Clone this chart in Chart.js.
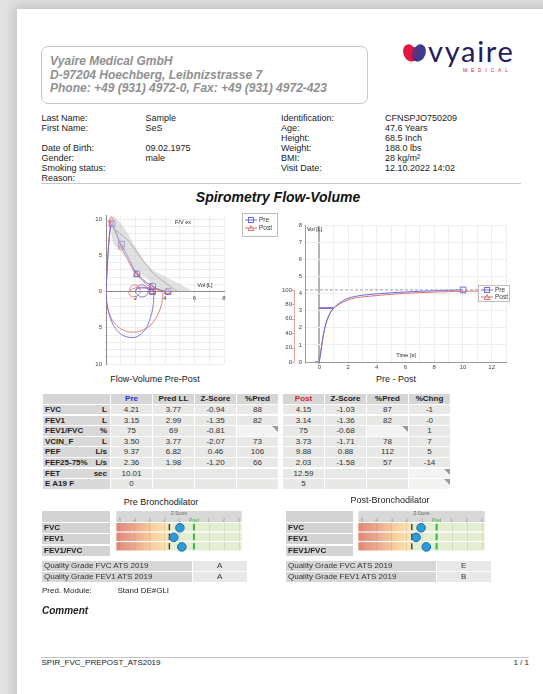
<!DOCTYPE html>
<html>
<head>
<meta charset="utf-8">
<script src="https://cdn.jsdelivr.net/npm/chart.js@4.4.1/dist/chart.umd.min.js"></script>
<style>
  body { margin: 0; width: 543px; height: 694px; overflow: hidden; position: relative;
         background: #e2e2e2; font-family: "Liberation Sans", Arial, sans-serif; color: #222; }
  .page { position: absolute; left: 17px; top: 9px; width: 560px; height: 720px; background: #fff;
          box-shadow: 0 0 10px 4px rgba(0,0,0,0.13); }
  .t { position: absolute; white-space: nowrap; }
  .cell { position: absolute; overflow: hidden; white-space: nowrap; font-size: 8px; color: #333; }
  .flag { position: absolute; right: 0; top: 0; width: 0; height: 0;
          border-top: 6px solid #9a9a9a; border-left: 6px solid transparent; }
  canvas { position: absolute; }
  .legend { position: absolute; background: #fff; border: 1px solid #bdbdbd; font-size: 6.5px; color: #333; }
</style>
</head>
<body>
<div class="page"></div>

<canvas id="fvChart" width="150" height="160" style="left:80px;top:210px"></canvas>
<canvas id="vtChart" width="245" height="154" style="left:270px;top:218px"></canvas>
<canvas id="zPre" width="136" height="46" style="left:111px;top:511px"></canvas>
<canvas id="zPost" width="137" height="46" style="left:353px;top:511px"></canvas>

<script>
// ---- Flow-volume loop [Vol L, Flow L/s] ----
const preExpVol   = [0, 0.05, 0.12, 0.2, 0.28, 0.36, 0.41, 0.55, 0.75, 1.01, 1.3, 1.6, 1.85, 2.07, 2.4, 2.75, 3.16, 3.45, 3.75, 4.0, 4.21];
const preExpFlow  = [0, 2.0, 4.5, 6.8, 8.4, 9.2, 9.37, 8.7, 7.8, 6.6, 5.5, 4.3, 3.3, 2.5, 1.85, 1.25, 0.75, 0.45, 0.22, 0.08, 0];
const postExpVol  = [0, 0.05, 0.12, 0.2, 0.28, 0.33, 0.36, 0.5, 0.75, 1.04, 1.3, 1.6, 1.85, 2.08, 2.4, 2.75, 3.11, 3.4, 3.7, 3.95, 4.15];
const postExpFlow = [0, 2.2, 4.9, 7.2, 8.9, 9.7, 9.88, 9.1, 7.7, 6.1, 5.0, 3.9, 3.0, 2.35, 1.65, 1.0, 0.5, 0.3, 0.15, 0.05, 0];

// tidal loop + forced inspiration
const preInspVol   = [2.0, 2.15, 2.4, 2.65, 2.85, 2.85, 2.7, 2.45, 2.2, 2.0, 2.05, 2.4, 2.8, 3.05, 3.2, 3.24, 3.22, 3.12, 2.98, 2.8, 2.55, 2.3, 2.0, 1.7, 1.4, 1.1, 0.8, 0.5, 0.3, 0.15, 0.05, 0];
const preInspFlow  = [0.1, 0.7, 0.95, 0.8, 0.35, -0.2, -0.6, -0.75, -0.55, -0.1, 0.3, 0.5, 0.45, 0.3, 0.1, -0.5, -1.5, -2.8, -3.8, -4.8, -5.5, -6.0, -6.3, -6.35, -6.25, -6.0, -5.5, -4.65, -3.7, -2.6, -1.4, 0];
const postInspVol  = [1.6, 1.65, 1.85, 2.1, 2.3, 2.3, 2.1, 1.85, 1.6, 1.55, 1.9, 2.4, 2.9, 3.2, 3.45, 3.7, 3.84, 3.82, 3.72, 3.55, 3.35, 3.03, 2.57, 2.11, 1.54, 0.97, 0.5, 0.23, 0.05, 0];
const postInspFlow = [0.0, 0.6, 0.9, 0.85, 0.4, -0.2, -0.6, -0.75, -0.5, 0.0, 0.45, 0.6, 0.55, 0.45, 0.3, 0.12, -0.2, -1.2, -2.1, -3.0, -3.74, -4.66, -5.25, -5.57, -5.57, -5.1, -4.2, -3.06, -1.7, 0];

// markers: PEF, FEF25, FEF50, FEF75, FEV1, FVC
const preMarkVol   = [0.41, 1.05, 2.1, 3.16, 3.15, 4.21];
const preMarkFlow  = [9.37, 6.55, 2.45, 0.75, 0, 0];
const postMarkVol  = [0.36, 1.04, 2.08, 3.11, 3.14, 4.15];
const postMarkFlow = [9.88, 6.1, 2.35, 0.5, 0, 0];

// predicted curve and normal band
const predVol  = [0.46, 0.74, 1.42, 1.88, 2.34, 2.8, 3.26, 3.83, 4.41, 4.87];
const predFlow = [8.8, 8.36, 7.2, 6.07, 4.7, 3.56, 2.42, 1.5, 0.6, 0];
const bandVol  = [0.3, 0.6, 1.08, 1.5, 2.0, 2.4, 2.8, 3.2, 3.5, 4.18, 5.1, 5.9, 3.95, 3.5, 2.8, 2.23, 1.66, 1.08, 0.5, 0.4, 0.3];
const bandFlow = [10.5, 10.3, 9.27, 8.0, 6.1, 4.8, 3.56, 2.9, 2.6, 1.87, 0.96, 0, 0.05, 0.6, 1.73, 2.64, 4.0, 5.38, 6.53, 7.5, 10.5];

const fvXTicks = [0, 1, 2, 3, 4, 5, 6, 7, 8];
const fvYTicks = [-10, -9, -8, -7, -6, -5, -4, -3, -2, -1, 0, 1, 2, 3, 4, 5, 6, 7, 8, 9, 10];

// ---- Volume-time [s, L] ----
const preTime  = [-0.3, -0.05, 0, 0.1, 0.2, 0.3, 0.45, 0.6, 0.8, 1.0, 1.3, 1.6, 2.0, 2.5, 3.0, 4.0, 5.0, 6.0, 7.0, 8.0, 9.0, 10.01];
const preVol   = [0, 0, 0.05, 0.6, 1.2, 1.7, 2.25, 2.6, 2.95, 3.15, 3.38, 3.55, 3.72, 3.83, 3.9, 3.98, 4.04, 4.09, 4.13, 4.16, 4.19, 4.21];
const postTime = [-0.3, -0.05, 0, 0.1, 0.2, 0.3, 0.45, 0.6, 0.8, 1.0, 1.3, 1.6, 2.0, 2.5, 3.0, 4.0, 5.0, 6.0, 7.0, 8.0, 9.0, 10.0, 11.0, 12.59];
const postVol  = [0, 0, 0.05, 0.58, 1.15, 1.65, 2.2, 2.57, 2.92, 3.14, 3.33, 3.47, 3.63, 3.74, 3.8, 3.88, 3.95, 4.01, 4.05, 4.08, 4.11, 4.13, 4.14, 4.15];
const preFVC = 4.21, postFVC = 4.15, preFET = 10.01, postFET = 12.59, preFEV1 = 3.15, postFEV1 = 3.14;
const vtXTicks = [-1, 0, 1, 2, 3, 4, 5, 6, 7, 8, 9, 10, 11, 12, 13];
const vtYTicks = [0, 1, 2, 3, 4, 5, 6, 7, 8];
const pctTicks = [0, 20, 40, 60, 80, 100];

// ---- Z-score panels ----
const zRows  = ['FVC', 'FEV1', 'FEV1/FVC'];
const zPre   = [-0.94, -1.35, -0.81];
const zPost  = [-1.03, -1.36, -0.68];
const zLLN   = -1.645;
const zTicks = [-5, -4, -3, -2, -1, 0, 1, 2, 3];

// ---- Tables ----
const paramNames = ['FVC', 'FEV1', 'FEV1/FVC', 'VCIN_F', 'PEF', 'FEF25-75%', 'FET', 'E A19 F'];
const paramUnits = ['L', 'L', '%', 'L', 'L/s', 'L/s', 'sec', ''];
const preVal  = ['4.21', '3.15', '75', '3.50', '9.37', '2.36', '10.01', '0'];
const predLL  = ['3.77', '2.99', '69', '3.77', '6.82', '1.98', '', ''];
const preZs   = ['-0.94', '-1.35', '-0.81', '-2.07', '0.46', '-1.20', '', ''];
const prePct  = ['88', '82', '', '73', '106', '66', '', ''];
const postVal = ['4.15', '3.14', '75', '3.73', '9.88', '2.03', '12.59', '5'];
const postZs  = ['-1.03', '-1.36', '-0.68', '-1.71', '0.88', '-1.58', '', ''];
const postPct = ['87', '82', '', '78', '112', '57', '', ''];
const pctChng = ['-1', '-0', '1', '7', '5', '-14', '', ''];
const qualityLabels = ['Quality Grade FVC ATS 2019', 'Quality Grade FEV1 ATS 2019'];
const preGrade  = ['A', 'A'];
const postGrade = ['E', 'B'];

const BLUE = '#6b6be0', RED = '#e07272';

Chart.defaults.font.family = '"Liberation Sans", Arial, sans-serif';
Chart.defaults.color = '#444';

const pts = (xs, ys) => xs.map((x, i) => ({ x, y: ys[i] }));

// ---------- text helpers ----------
function txt(s, x, y, size, opt = {}) {
  const d = document.createElement('div');
  d.className = 't';
  d.textContent = s;
  const lh = opt.lh || Math.round(size * 1.2);
  d.style.fontSize = size + 'px';
  d.style.lineHeight = lh + 'px';
  d.style.top = (y - lh / 2) + 'px';
  if (opt.align === 'center') { d.style.left = (x - 200) + 'px'; d.style.width = '400px'; d.style.textAlign = 'center'; }
  else if (opt.align === 'right') { d.style.left = (x - 400) + 'px'; d.style.width = '400px'; d.style.textAlign = 'right'; }
  else d.style.left = x + 'px';
  if (opt.css) d.style.cssText += opt.css;
  document.body.appendChild(d);
  return d;
}
function cell(x, y, w, h, bg, s, css) {
  const d = document.createElement('div');
  d.className = 'cell';
  d.style.cssText += `left:${x}px;top:${y}px;width:${w}px;height:${h}px;line-height:${h}px;background:${bg};` + (css || '');
  if (s !== undefined) d.innerHTML = s;
  document.body.appendChild(d);
  return d;
}

// ---------- header ----------
const hb = document.createElement('div');
hb.style.cssText = 'position:absolute;left:41px;top:46px;width:325px;height:56px;border:1px solid #c6c6c6;border-radius:7px;';
document.body.appendChild(hb);
const hstyle = 'font-weight:bold;font-style:italic;color:#909090;';
txt('Vyaire Medical GmbH', 50, 61, 12, { css: hstyle });
txt('D-97204 Hoechberg, Leibnizstrasse 7', 50, 74.5, 12, { css: hstyle });
txt('Phone: +49 (931) 4972-0, Fax: +49 (931) 4972-423', 50, 88, 12, { css: hstyle });

// logo
const logo = document.createElement('div');
logo.style.cssText = 'position:absolute;left:401px;top:42px;';
logo.innerHTML = '<svg width="28" height="22" viewBox="0 0 28 22">' +
  '<ellipse cx="9" cy="11" rx="6.5" ry="9" transform="rotate(-22 9 11)" fill="#e3173e"/>' +
  '<ellipse cx="18" cy="11" rx="6.5" ry="9" transform="rotate(22 18 11)" fill="#2d2a82" opacity="0.92"/>' +
  '<ellipse cx="13.5" cy="11" rx="2.5" ry="6" fill="#7d2b78" opacity="0.8"/></svg>';
document.body.appendChild(logo);
txt('vyaire', 428, 50.7, 29, { lh: 16, css: 'font-family:Lato,"Noto Sans",sans-serif;color:#221d5e;letter-spacing:1.7px;' });
txt('MEDICAL', 463, 70.5, 5, { lh: 5, css: 'color:#e3173e;letter-spacing:3.8px;' });

// patient info
const infoL = [['Last Name:', 'Sample', 118], ['First Name:', 'SeS', 128], ['Date of Birth:', '09.02.1975', 148],
               ['Gender:', 'male', 158], ['Smoking status:', '', 168], ['Reason:', '', 178.5]];
const infoR = [['Identification:', 'CFNSPJO750209', 118], ['Age:', '47.6 Years', 128], ['Height:', '68.5 Inch', 138],
               ['Weight:', '188.0 lbs', 148], ['BMI:', '28 kg/m²', 158], ['Visit Date:', '12.10.2022 14:02', 168]];
infoL.forEach(r => { txt(r[0], 41.5, r[2], 9); txt(r[1], 145.5, r[2], 9); });
infoR.forEach(r => { txt(r[0], 281, r[2], 9); txt(r[1], 385, r[2], 9); });

const sep = document.createElement('div');
sep.style.cssText = 'position:absolute;left:41px;top:182.5px;width:480px;height:1px;background:#c9c9c9;';
document.body.appendChild(sep);

txt('Spirometry Flow-Volume', 278, 197.5, 14, { align: 'center', css: 'font-weight:bold;font-style:italic;color:#111;' });

// chart captions and inner labels
txt('Flow-Volume Pre-Post', 155, 379.5, 9, { align: 'center' });
txt('Pre - Post', 396, 379, 9, { align: 'center' });
txt('F/V ex', 183, 222, 5.5, { align: 'center' });
txt('Vol [L]', 205, 285, 5.5, { align: 'center' });
txt('Vol [L]', 307, 229, 5.5);
txt('Time [s]', 406, 355, 5.5, { align: 'center' });

// legends
function legend(x, y, w, h, rowGap, top0) {
  const d = document.createElement('div');
  d.className = 'legend';
  d.style.cssText += `left:${x}px;top:${y}px;width:${w}px;height:${h}px;`;
  const sq = `<svg width="12" height="6" style="position:absolute;left:2px;top:${top0 - 3}px"><line x1="0" y1="3" x2="12" y2="3" stroke="${BLUE}"/><rect x="3.5" y="0.5" width="5" height="5" fill="none" stroke="${BLUE}"/></svg>`;
  const tr = `<svg width="12" height="6" style="position:absolute;left:2px;top:${top0 + rowGap - 3}px"><line x1="0" y1="3" x2="12" y2="3" stroke="${RED}"/><path d="M6 0.5 L9 5.5 L3 5.5 Z" fill="none" stroke="${RED}"/></svg>`;
  d.innerHTML = sq + tr +
    `<div class="t" style="left:16px;top:${top0 - 4}px;line-height:8px">Pre</div>` +
    `<div class="t" style="left:16px;top:${top0 + rowGap - 4}px;line-height:8px">Post</div>`;
  document.body.appendChild(d);
}
legend(242, 213, 34, 22, 8, 6);
legend(478, 285, 30, 15, 7, 4);

// ---------- result tables ----------
const tblTop = 394.3, rowH = 10.6, cellH = 9.5;
const HEAD_BG = '#d6d6d6', NAME_BG = '#d8d8d8', DATA_BG = '#e8e8e6', FLAG_BG = '#f3f3f2';
function flagCell(x, y, w, h) { const c = cell(x, y, w, h, FLAG_BG, ''); const f = document.createElement('div'); f.className = 'flag'; c.appendChild(f); }

cell(43, tblTop, 67, cellH, HEAD_BG, '');
const preHead = ['Pre', 'Pred LL', 'Z-Score', '%Pred'];
const postHead = ['Post', 'Z-Score', '%Pred', '%Chng'];
const preColX = [111, 153, 195, 237], postColX = [283, 325, 367, 409];
preHead.forEach((h, j) => cell(preColX[j], tblTop, 41, cellH, HEAD_BG, h,
  'text-align:center;font-weight:bold;color:' + (j === 0 ? '#2b2be6' : '#222')));
postHead.forEach((h, j) => cell(postColX[j], tblTop, 41, cellH, HEAD_BG, h,
  'text-align:center;font-weight:bold;color:' + (j === 0 ? '#e02424' : '#222')));

paramNames.forEach((name, i) => {
  const y = tblTop + (i + 1) * rowH;
  const c = cell(43, y, 67, cellH, NAME_BG, '', 'font-weight:bold;color:#222');
  c.innerHTML = `<span style="position:absolute;left:2px">${name}</span><span style="position:absolute;right:3px">${paramUnits[i]}</span>`;
  const preCols = [preVal[i], predLL[i], preZs[i], prePct[i]];
  preCols.forEach((v, j) => {
    if (j === 3 && i === 2) flagCell(preColX[j], y, 41, cellH);
    else cell(preColX[j], y, 41, cellH, DATA_BG, v, 'text-align:center');
  });
  const postCols = [postVal[i], postZs[i], postPct[i], pctChng[i]];
  postCols.forEach((v, j) => {
    if ((j === 2 && i === 2) || (j === 3 && i >= 6)) flagCell(postColX[j], y, 41, cellH);
    else cell(postColX[j], y, 41, cellH, DATA_BG, v, 'text-align:center');
  });
});

// ---------- z-score section ----------
txt('Pre Bronchodilator', 161, 502, 9, { align: 'center' });
txt('Post-Bronchodilator', 390, 500.5, 9, { align: 'center' });
const zTop = 523, zRowH = 34 / 3;
[[42, 68], [286, 66.5]].forEach(([x, w]) => {
  cell(x, 511, w, 11, '#d3d3d3', '');
  zRows.forEach((r, i) => cell(x, zTop + i * zRowH, w, zRowH - 1.2, '#d3d3d3', r,
    'font-weight:bold;color:#222;padding-left:2px;box-sizing:border-box'));
});
qualityLabels.forEach((q, i) => {
  const y = 561 + i * 11;
  cell(42, y, 149.5, 9.6, '#d6d6d6', q, 'padding-left:2px;box-sizing:border-box');
  cell(192.5, y, 54.5, 9.6, '#e8e8e6', preGrade[i], 'text-align:center');
  cell(286, y, 149.5, 9.6, '#d6d6d6', q, 'padding-left:2px;box-sizing:border-box');
  cell(436.5, y, 54.5, 9.6, '#e8e8e6', postGrade[i], 'text-align:center');
});
txt('Pred. Module:', 42, 590.5, 8);
txt('Stand DE#GLI', 117.5, 590.5, 8);
txt('Comment', 42, 610.5, 10, { css: 'font-weight:bold;font-style:italic;' });

const foot = document.createElement('div');
foot.style.cssText = 'position:absolute;left:41px;top:657px;width:488px;height:1px;background:#c4c4c4;';
document.body.appendChild(foot);
txt('SPIR_FVC_PREPOST_ATS2019', 41.5, 663, 8);
txt('1 / 1', 529, 663, 8, { align: 'right' });

// ---------- Flow-volume chart ----------
new Chart(document.getElementById('fvChart'), {
  type: 'line',
  data: {
    datasets: [
      { data: pts(bandVol, bandFlow), fill: 'shape', backgroundColor: 'rgba(200,200,200,0.55)', borderWidth: 0, pointRadius: 0, tension: 0 },
      { data: pts(predVol, predFlow), borderColor: '#8e8e8e', borderWidth: 1, pointRadius: 0, tension: 0.3 },
      { data: pts(preInspVol, preInspFlow), borderColor: BLUE, borderWidth: 0.9, pointRadius: 0, tension: 0.25 },
      { data: pts(postInspVol, postInspFlow), borderColor: RED, borderWidth: 0.9, pointRadius: 0, tension: 0.25 },
      { data: pts(preExpVol, preExpFlow), borderColor: BLUE, borderWidth: 1, pointRadius: 0, tension: 0.2 },
      { data: pts(postExpVol, postExpFlow), borderColor: RED, borderWidth: 1, pointRadius: 0, tension: 0.2 },
      { data: pts(preMarkVol, preMarkFlow), showLine: false, pointStyle: 'rect', pointRadius: 4, borderColor: BLUE, backgroundColor: 'rgba(255,255,255,0)', borderWidth: 1 },
      { data: pts(postMarkVol, postMarkFlow), showLine: false, pointStyle: 'triangle', pointRadius: 3.5, borderColor: RED, backgroundColor: 'rgba(255,255,255,0)', borderWidth: 1 }
    ]
  },
  options: {
    responsive: false, animation: false,
    layout: { padding: { top: 5, bottom: 6, right: 6, left: 0 } },
    plugins: { legend: { display: false }, tooltip: { enabled: false } },
    scales: {
      x: {
        type: 'linear', min: 0, max: 8, position: { y: 0 },
        afterBuildTicks: s => { s.ticks = fvXTicks.map(v => ({ value: v })); },
        ticks: { font: { size: 6 }, padding: 1, maxRotation: 0, autoSkip: false,
                 callback: v => (v > 0 && v % 2 === 0) ? v : '' },
        grid: { color: '#ededed', tickLength: 2 },
        border: { color: '#8a8a8a' }
      },
      y: {
        type: 'linear', min: -10, max: 10.5,
        afterBuildTicks: s => { s.ticks = fvYTicks.map(v => ({ value: v })); },
        ticks: { font: { size: 6 }, padding: 2, autoSkip: false, callback: v => v % 5 === 0 ? Math.abs(v) : '' },
        grid: { color: '#ededed', tickLength: 2 },
        border: { color: '#8a8a8a' },
        afterFit: s => { s.width = 26; }
      }
    }
  }
});

// ---------- Volume-time chart ----------
const pctAxisLine = {
  id: 'pctAxisLine',
  afterDraw(chart) {
    const s = chart.scales.pct, ctx = chart.ctx;
    const x = Math.round(s.right) - 0.5;
    ctx.save();
    ctx.strokeStyle = '#e6a3a3';
    ctx.lineWidth = 1;
    ctx.beginPath();
    ctx.moveTo(x, s.getPixelForValue(0));
    ctx.lineTo(x, s.getPixelForValue(100));
    pctTicks.forEach(v => { const y = Math.round(s.getPixelForValue(v)) + 0.5; ctx.moveTo(x - 2.5, y); ctx.lineTo(x, y); });
    ctx.stroke();
    ctx.restore();
  }
};
new Chart(document.getElementById('vtChart'), {
  type: 'line',
  data: {
    datasets: [
      { data: [{ x: -1, y: preFVC }, { x: 13, y: preFVC }], borderColor: '#9c9cae', borderWidth: 1, borderDash: [3, 2], pointRadius: 0 },
      { data: pts(preTime, preVol), borderColor: BLUE, borderWidth: 1, pointRadius: 0, tension: 0.3 },
      { data: pts(postTime, postVol), borderColor: RED, borderWidth: 1, pointRadius: 0, tension: 0.3 },
      { data: [{ x: 0, y: preFEV1 }, { x: 1, y: preFEV1 }], borderColor: BLUE, borderWidth: 1.5, pointRadius: 0 },
      { data: [{ x: 0, y: postFEV1 }, { x: 1, y: postFEV1 }], borderColor: RED, borderWidth: 1.5, pointRadius: 0 },
      { data: [{ x: preFET, y: preFVC }], showLine: false, pointStyle: 'rect', pointRadius: 4, borderColor: BLUE, backgroundColor: 'rgba(255,255,255,0)', borderWidth: 1 },
      { data: [{ x: postFET, y: postFVC }], showLine: false, pointStyle: 'triangle', pointRadius: 3.5, borderColor: RED, backgroundColor: 'rgba(255,255,255,0)', borderWidth: 1 }
    ]
  },
  options: {
    responsive: false, animation: false,
    layout: { padding: { top: 7, right: 9, left: 0, bottom: 0 } },
    plugins: { legend: { display: false }, tooltip: { enabled: false } },
    scales: {
      x: {
        type: 'linear', min: -1, max: 13,
        afterBuildTicks: s => { s.ticks = vtXTicks.map(v => ({ value: v })); },
        ticks: { font: { size: 6 }, padding: 0, maxRotation: 0, autoSkip: false,
                 callback: v => (v >= 0 && v % 2 === 0) ? v : '' },
        grid: { color: c => c.tick && c.tick.value === 0 ? '#b3b3b3' : '#eeeeee',
                lineWidth: c => c.tick && c.tick.value === 0 ? 2 : 1, tickLength: 2 },
        border: { color: '#999' },
        afterFit: s => { s.height = 10; }
      },
      y: {
        type: 'linear', position: 'left', weight: 0, min: 0, max: 8,
        afterBuildTicks: s => { s.ticks = vtYTicks.map(v => ({ value: v })); },
        ticks: { font: { size: 6 }, padding: 1 },
        grid: { color: '#eeeeee', tickLength: 2 },
        border: { color: '#999' },
        afterFit: s => { s.width = 10; }
      },
      pct: {
        type: 'linear', position: 'left', weight: 1, min: 0, max: 8 / preFVC * 100,
        afterBuildTicks: s => { s.ticks = pctTicks.map(v => ({ value: v })); },
        ticks: { font: { size: 6 }, padding: 3 },
        grid: { display: false, drawTicks: false },
        border: { display: false },
        afterFit: s => { s.width = 25; }
      }
    }
  },
  plugins: [pctAxisLine]
});

// ---------- Z-score charts ----------
const zBackground = {
  id: 'zBackground',
  beforeDraw(chart) {
    const { ctx, chartArea: a, scales: { x, y } } = chart;
    ctx.save();
    ctx.fillStyle = '#d8d8d8';
    ctx.fillRect(a.left, 0, a.right - a.left, a.top - 1);
    const xl = x.getPixelForValue(zLLN), x0 = x.getPixelForValue(0);
    const grad = ctx.createLinearGradient(a.left, 0, xl, 0);
    grad.addColorStop(0, '#df8a78');
    grad.addColorStop(0.35, '#eda88e');
    grad.addColorStop(0.7, '#f7d19e');
    grad.addColorStop(1, '#fbe6b6');
    const h = (a.bottom - a.top) / zRows.length;
    zRows.forEach((r, i) => {
      const top = a.top + i * h, rh = h - 1.2;
      ctx.fillStyle = grad;
      ctx.fillRect(a.left, top, xl - a.left, rh);
      ctx.fillStyle = '#e3eed3';
      ctx.fillRect(xl, top, a.right - xl, rh);
      ctx.strokeStyle = 'rgba(120,120,100,0.18)';
      ctx.lineWidth = 1;
      ctx.beginPath();
      zTicks.forEach(v => { const px = Math.round(x.getPixelForValue(v)) + 0.5; ctx.moveTo(px, top); ctx.lineTo(px, top + rh); });
      ctx.stroke();
      ctx.strokeStyle = '#3a3a3a'; ctx.lineWidth = 1.4;
      ctx.beginPath(); ctx.moveTo(xl, top + 1); ctx.lineTo(xl, top + rh - 1); ctx.stroke();
      ctx.strokeStyle = '#2fbf3a'; ctx.lineWidth = 2;
      ctx.beginPath(); ctx.moveTo(x0, top + 1); ctx.lineTo(x0, top + rh - 1); ctx.stroke();
    });
    ctx.restore();
  }
};
function zChart(id, vals) {
  const data = zRows.map((r, i) => ({ x: vals[i], y: r }));
  new Chart(document.getElementById(id), {
    type: 'scatter',
    data: {
      datasets: [
        { data, pointStyle: 'circle', pointRadius: 4.3, backgroundColor: '#2f9bd6', borderColor: '#1c6ea6', borderWidth: 1 },
        { data, pointStyle: 'star', pointRadius: 2.4, borderColor: '#ffffff', backgroundColor: '#ffffff', borderWidth: 0.9 }
      ]
    },
    options: {
      responsive: false, animation: false,
      layout: { padding: 0 },
      plugins: { legend: { display: false }, tooltip: { enabled: false } },
      scales: {
        x: {
          type: 'linear', position: 'top', min: -5.2, max: 3.2,
          afterBuildTicks: s => { s.ticks = zTicks.map(v => ({ value: v })); },
          ticks: { font: { size: 4.5 }, padding: 0, maxRotation: 0, autoSkip: false,
                   color: c => c.tick && c.tick.value === 0 ? '#3cb043' : '#9a9a9a',
                   callback: v => v === 0 ? 'Pred' : v },
          grid: { display: false, drawTicks: false },
          border: { display: false },
          title: { display: true, text: 'Z-Score', font: { size: 4.5 }, color: '#666', padding: 0 },
          afterFit: s => { s.height = 12; }
        },
        y: { type: 'category', labels: zRows, offset: true, display: false }
      }
    },
    plugins: [zBackground]
  });
}
zChart('zPre', zPre);
zChart('zPost', zPost);
</script>
</body>
</html>
